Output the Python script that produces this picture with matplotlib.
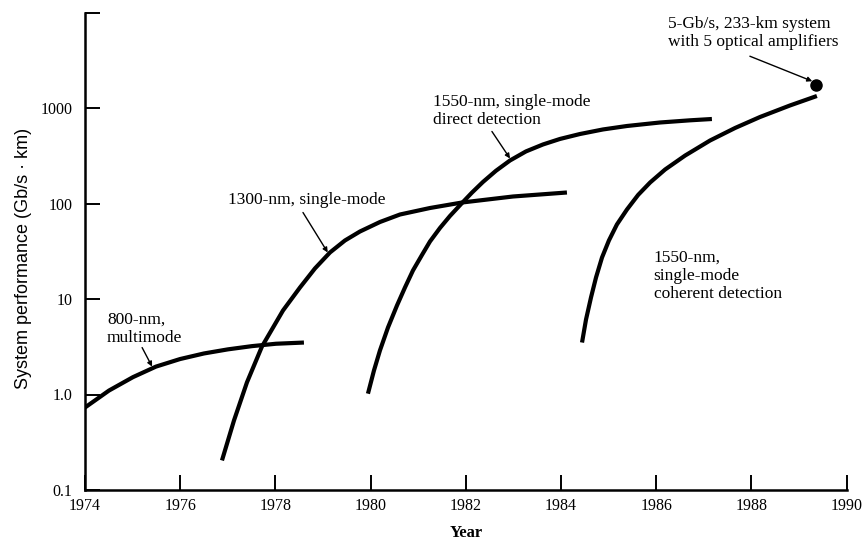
# Fiber-optic system performance vs year (log scale), textbook-style redraw

import matplotlib
matplotlib.use("Agg")
import matplotlib.pyplot as plt
from matplotlib.ticker import NullLocator

# ── Data ─────────────────────────────────────────────────────────────────────
mm800_year = [1974.0, 1974.504, 1975.008, 1975.492, 1975.996, 1976.50,
              1977.004, 1977.508, 1978.013, 1978.60]
mm800_perf = [0.731, 1.10, 1.52, 1.96, 2.35, 2.69, 2.97, 3.21, 3.40, 3.50]

sm1300_year = [1976.878, 1977.130, 1977.403, 1977.718, 1978.160, 1978.517,
               1978.832, 1979.147, 1979.462, 1979.777, 1980.197, 1980.618,
               1981.248, 1981.920, 1982.992, 1984.126]
sm1300_perf = [0.204, 0.534, 1.34, 3.18, 7.58, 13.2, 20.9, 30.7, 41.0, 50.9,
               64.0, 76.7, 89.7, 102.4, 118.4, 130.4]

dd1550_year = [1979.945, 1980.071, 1980.197, 1980.366, 1980.555, 1980.723,
               1980.891, 1981.080, 1981.248, 1981.458, 1981.668, 1981.920,
               1982.130, 1982.361, 1982.634, 1982.929, 1983.265, 1983.622,
               1983.979, 1984.399, 1984.882, 1985.387, 1986.080, 1986.71,
               1987.172]
dd1550_perf = [1.02, 1.78, 2.89, 5.03, 8.55, 13.2, 19.9, 28.9, 40.0, 55.4,
               74.0, 101, 130, 168, 220, 282, 351, 415, 474, 534, 596, 648,
               705, 743, 767]

coh1550_year = [1984.443, 1984.527, 1984.632, 1984.737, 1984.863, 1985.008,
                1985.176, 1985.387, 1985.622, 1985.874, 1986.189, 1986.61,
                1987.134, 1987.660, 1988.183, 1988.81, 1989.378]
coh1550_perf = [3.50, 6.10, 10.4, 16.8, 27.2, 41.0, 60.3, 86.5, 123, 166,
                227, 318, 457, 618, 805, 1062, 1336]

record_year, record_perf = 1989.35, 1735     # 5-Gb/s, 233-km system

X_TICKS  = list(range(1974, 1991, 2))
Y_TICKS  = [0.1, 1, 10, 100, 1000, 10000]
Y_LABELS = ["0.1", "1.0", "10", "100", "1000", ""]

SERIF = ["Liberation Serif", "DejaVu Serif"]
SANS  = ["Liberation Sans", "DejaVu Sans"]

# ── Figure ───────────────────────────────────────────────────────────────────
W, H = 866, 542
fig = plt.figure(figsize=(W / 100, H / 100), dpi=100)
ax = fig.add_axes([85 / W, (H - 490) / H, (846.5 - 85) / W, (490 - 12.5) / H])

ax.set_yscale("log")
ax.set_xlim(1974, 1990)
ax.set_ylim(0.1, 10000)

for s in ("top", "right"):
    ax.spines[s].set_visible(False)
for s in ("left", "bottom"):
    ax.spines[s].set_linewidth(1.8)

ax.set_xticks(X_TICKS)
ax.set_xticklabels([str(y) for y in X_TICKS], family=SERIF, fontsize=11.5)
ax.set_yticks(Y_TICKS)
ax.set_yticklabels(Y_LABELS, family=SERIF, fontsize=11.5)
ax.yaxis.set_minor_locator(NullLocator())
ax.tick_params(axis="both", direction="in", length=11, width=1.4, color="black")
ax.tick_params(axis="y", pad=9)
ax.tick_params(axis="x", pad=6)

ax.set_xlabel("Year", family=SERIF, fontsize=12, fontweight="bold", labelpad=8)
ax.set_ylabel("System performance (Gb/s · km)", family=SANS, fontsize=13)
ax.yaxis.set_label_coords((32 - 85) / 761.5, (490 - 258) / 477.5)

# ── Curves ───────────────────────────────────────────────────────────────────
curve_kw = dict(color="black", lw=3.0, solid_capstyle="butt", solid_joinstyle="round")
ax.plot(mm800_year, mm800_perf, **curve_kw)
ax.plot(sm1300_year, sm1300_perf, **curve_kw)
ax.plot(dd1550_year, dd1550_perf, **curve_kw)
ax.plot(coh1550_year, coh1550_perf, **curve_kw)
ax.plot([record_year], [record_perf], "o", color="black", ms=8)

# ── Labels with leader arrows ────────────────────────────────────────────────
txt_kw = dict(family=SERIF, fontsize=12.5, ha="left", va="center", linespacing=1.17)
arr_kw = dict(arrowstyle="-|>", color="black", lw=1.0, mutation_scale=7,
              shrinkA=0, shrinkB=0)

ax.text(1974.46, 4.9, "800-nm,\nmultimode", **txt_kw)
ax.annotate("", xy=(1975.41, 1.96), xytext=(1975.20, 3.1), arrowprops=arr_kw)

ax.text(1977.0, 110, "1300-nm, single-mode", **txt_kw)
ax.annotate("", xy=(1979.10, 30.7), xytext=(1978.58, 80.5), arrowprops=arr_kw)

ax.text(1981.31, 930, "1550-nm, single-mode\ndirect detection", **txt_kw)
ax.annotate("", xy=(1982.93, 296), xytext=(1982.55, 568), arrowprops=arr_kw)

ax.text(1985.95, 17.6, "1550-nm,\nsingle-mode\ncoherent detection", **txt_kw)

ax.text(1986.24, 6170, "5-Gb/s, 233-km system\nwith 5 optical amplifiers",
        clip_on=False, **txt_kw)
ax.annotate("", xy=(1989.28, 1908), xytext=(1987.97, 3485), arrowprops=arr_kw,
            annotation_clip=False)

fig.savefig("out.png", dpi=100)
